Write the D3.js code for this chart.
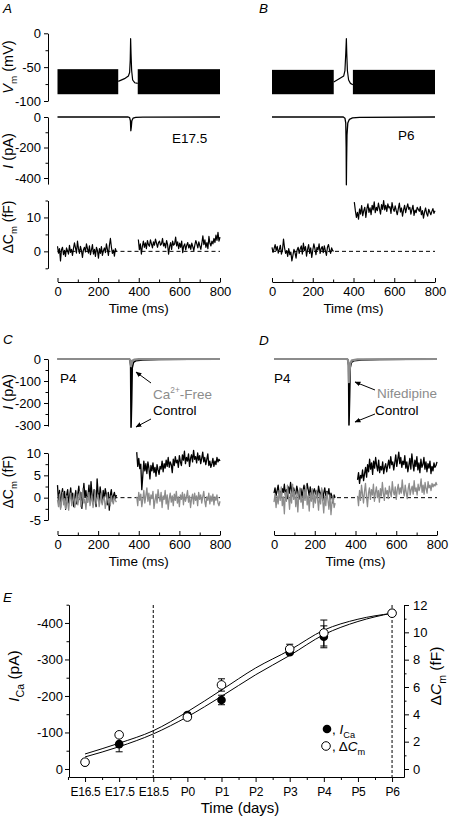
<!DOCTYPE html>
<html><head><meta charset="utf-8">
<script src="https://cdn.jsdelivr.net/npm/d3@7"></script>
<style>
body{margin:0;background:#fff}
svg{display:block;font-family:"Liberation Sans",Arial,sans-serif}
</style></head><body>
<svg id="c" width="449" height="817"></svg>
<script>
// ---------------- DATA ----------------
const timeTicks = [0, 200, 400, 600, 800];
const timeMinor = [100, 300, 500, 700];

// Panel A (E17.5)
const vmBlocksA = [[0, 299], [395, 800]];
const vmBlockRangeA = [-90, -53];
const vmSpikeA = [[299,-71],[330,-67],[349,-63],[355,-58],[358,-40],[360,-8],[362,-30],[365,-55],[370,-69],[380,-73],[395,-74]];
const iTraceA = [[0,0],[348,0],[355,-4],[359,-25],[361,-90],[363,-70],[366,-25],[372,-8],[385,-3],[420,-1],[800,0]];
const cmA1 = [1.5,-0.5,0.8,-2.8,0.5,1.2,-1.0,0.3,-1.5,1.0,0.2,-0.8,1.8,-0.3,0.6,-1.2,0.9,2.5,1.0,-0.5,3.0,0.8,-0.6,1.5,0.2,-1.8,0.5,1.2,-0.2,2.2,0.8,-0.5,1.6,-1.0,0.4,2.0,-0.8,0.6,-1.5,1.2,0.3,-2.0,0.8,-0.6,1.4,-1.2,0.2,1.0,-0.4,2.2,0.6,-1.2,1.8,3.8,1.2,-0.6,0.4,-1.4,0.8,-0.2];
const cmA2 = [3.5,0.5,2.2,-0.8,1.5,3.0,1.2,2.5,0.8,3.2,2.0,1.5,3.4,2.2,1.0,2.8,1.8,3.6,2.4,1.2,2.6,3.0,1.8,2.2,3.8,1.6,2.4,1.0,3.2,2.0,-0.8,1.4,2.6,0.6,3.0,1.8,2.2,4.2,1.6,2.8,0.8,2.4,1.2,3.0,-0.4,1.6,2.2,0.4,1.8,2.6,1.0,2.0,0.6,2.4,1.4,0.2,1.8,3.2,2.2,1.0,2.8,1.6,0.6,2.4,4.6,2.0,3.4,1.2,2.6,0.8,4.4,2.4,1.6,3.0,2.2,3.8,2.6,4.8,3.2,5.6,3.0,4.2];
const cmA1Span = [0, 290], cmA2Span = [398, 800];

// Panel B (P6)
const vmBlocksB = [[0, 303], [397, 800]];
const vmBlockRangeB = [-90, -54];
const vmSpikeB = [[303,-72],[330,-67],[352,-63],[358,-55],[362,-30],[365,-8],[367,-30],[370,-55],[376,-69],[385,-74],[397,-76]];
const iTraceB = [[0,0],[350,0],[358,-8],[362,-40],[364,-200],[365,-445],[366,-300],[368,-120],[372,-40],[380,-15],[395,-6],[430,-2],[800,0]];
const cmB1 = [1.2,-0.3,0.8,2.0,0.2,1.5,-0.5,0.6,1.8,-0.8,0.4,3.6,1.0,-0.6,0.2,-1.5,0.8,-1.0,-0.2,-2.8,-1.2,0.6,-0.4,-2.0,0.4,1.2,-0.6,0.8,1.6,-0.8,2.4,0.2,1.4,-1.4,0.6,2.0,-0.6,1.0,-1.8,0.4,2.2,0.8,-1.0,1.2,0.4,2.2,-0.6,0.8,1.4,-0.4,1.6,0.2,-1.2,1.2,2.0,0.4,-0.6,1.0,0.2,0.0];
const cmB2 = [14.5,12.0,10.0,11.5,9.5,12.5,11.0,13.5,10.5,12.0,13.0,10.0,12.5,14.0,11.5,12.8,10.8,13.6,12.2,14.6,11.4,13.0,12.0,14.2,12.6,11.0,13.8,12.4,15.0,12.2,13.6,11.8,14.0,12.8,13.2,11.2,14.4,12.6,11.8,13.4,12.0,10.8,12.6,14.2,11.6,12.8,10.4,12.2,13.6,11.4,12.8,14.0,12.4,13.0,11.0,12.4,13.6,10.6,12.2,11.4,13.0,12.4,11.8,13.2,10.8,12.0,9.8,11.6,12.8,11.2,10.4,12.4,11.6,10.8,11.8,12.6,11.2,12.0];
const cmB1Span = [0, 303], cmB2Span = [404, 800];

// Panel C (P4, Ca-free)
const iCtrlC = [[0,0],[352,0],[357,-5],[360,-30],[362,-310],[365,-200],[368,-40],[374,-15],[385,-8],[420,-4],[500,-2],[800,0]];
const iFreeC = [[0,0],[352,0],[357,-3],[360,-15],[362,-32],[364,-20],[368,-8],[377,-3],[400,-1],[800,0]];
const cmC1k = [2.8,-1.0,1.6,-2.2,0.8,2.0,-0.8,1.4,-2.6,0.6,1.8,-1.2,0.4,2.2,-0.6,1.0,-2.0,0.2,1.6,-1.4,0.8,2.6,-0.4,1.2,-2.4,0.6,3.2,0.0,1.6,-1.0,0.4,2.8,-0.8,3.6,0.6,-1.4,1.8,0.2,-2.0,4.2,1.0,-0.6,2.4,0.4,-1.2,1.6,-0.4,2.0,0.8,-1.6,1.2,-2.8,0.6,1.8,-0.8,0.4,1.2,-0.2,0.6];
const cmC1g = [-0.5,-2.0,0.8,-2.6,-0.8,1.2,-1.6,-0.2,-2.4,0.4,-1.2,-2.8,-0.4,1.0,-1.8,-0.6,0.6,-2.2,-1.0,0.8,-1.6,-0.2,1.4,-2.0,-0.8,2.0,-1.2,-0.4,-2.6,0.2,-1.0,1.2,-1.8,-0.6,0.4,-2.2,-0.8,1.6,-1.4,-0.2,0.6,-2.0,-0.6,1.0,-1.6,-0.4,0.2,-2.4,-1.0,0.8,-1.2,-0.2,-1.8,0.4,-0.8,-1.4,0.2,-0.6,-1.0];
const cmC2k = [10.2,7.0,8.8,6.5,7.5,1.8,5.0,8.2,6.0,7.6,5.4,8.0,6.6,4.2,7.2,6.0,7.8,5.6,6.8,4.8,7.4,6.2,5.2,7.0,6.4,8.2,5.8,7.6,6.6,8.4,7.0,9.0,6.8,8.0,7.4,5.6,8.6,7.2,9.2,7.8,8.4,6.8,9.4,8.0,7.2,9.6,8.4,10.4,7.6,9.0,8.2,9.8,7.0,8.8,9.6,8.0,10.6,8.6,9.2,7.8,10.0,8.4,9.4,7.6,8.8,10.2,8.0,9.0,7.4,8.6,9.8,7.2,8.2,6.8,7.6,8.8,7.0,8.2,7.4,9.0,8.0,8.6,8.2];
const cmC2g = [0.2,-1.8,1.2,-0.6,0.8,-2.0,-0.4,1.6,-1.2,0.4,2.2,-0.8,1.0,-1.6,0.6,-0.2,1.4,-2.4,-0.6,0.8,-1.2,1.8,0.2,-0.8,1.2,-2.2,0.4,-0.4,1.6,-1.4,0.6,-2.6,-0.2,1.0,-1.0,0.4,-1.8,0.8,-0.6,1.4,-1.2,0.2,-2.0,0.6,-0.4,1.2,-1.6,0.8,-0.8,0.2,1.6,-1.0,0.4,-2.2,-0.2,0.8,-1.4,1.0,-0.6,0.4,-1.8,1.2,-0.4,0.6,-1.2,0.2,1.4,-0.8,-2.0,0.2,-0.6,1.0,-1.4,0.4,-0.8,0.8,-1.6,0.2,-0.6,0.6,-1.2,-1.8,-0.8];
const cmC1Span = [0, 290], cmC2Span = [390, 800];

// Panel D (P4, nifedipine)
const iCtrlD = [[0,0],[358,0],[363,-5],[366,-30],[368,-300],[371,-180],[374,-40],[380,-15],[392,-8],[430,-4],[520,-2],[800,0]];
const iNifD = [[0,0],[358,0],[363,-4],[366,-25],[368,-105],[371,-60],[374,-20],[382,-6],[410,-2],[800,0]];
const cmD1k = [1.0,2.2,0.4,1.6,2.8,0.8,1.4,0.2,2.0,1.2,3.0,0.6,1.8,-0.2,2.4,1.0,3.4,1.6,0.4,2.2,1.2,0.8,2.6,1.4,-0.4,1.0,2.0,0.2,1.6,2.8,0.6,1.2,3.2,1.8,0.4,2.4,1.0,-0.2,1.4,2.0,0.8,1.6,0.2,2.6,1.2,0.6,1.8,-0.6,1.0,2.2,0.4,1.4,0.8,2.0,-0.4,1.0,0.2,-1.2,0.6,0.0];
const cmD1g = [-1.0,0.8,-2.2,0.4,-1.4,1.6,-0.6,2.4,-1.8,0.2,-3.6,1.2,-0.8,2.8,0.4,-2.6,1.0,-1.2,3.0,-0.4,1.4,-2.0,0.6,-3.2,0.8,2.2,-1.0,0.2,-2.4,1.8,-0.6,2.6,-1.6,0.4,-3.0,1.0,-0.8,2.0,-2.2,0.6,-1.2,1.6,-0.2,-2.8,0.8,-1.4,2.2,-0.6,-3.4,0.4,-1.8,1.2,-0.4,-2.6,0.6,-3.8,-1.0,0.2,-2.2,-1.2];
const cmD2k = [4.0,5.6,3.2,5.0,4.4,6.2,3.8,5.4,6.8,4.6,7.4,5.8,8.6,6.4,7.8,5.2,8.2,6.6,9.0,7.2,6.0,8.4,5.6,7.0,6.2,8.0,5.4,6.8,7.6,5.8,7.2,8.4,6.6,9.2,7.4,8.0,6.2,7.8,9.6,7.0,8.6,10.2,7.6,9.0,6.8,8.2,7.4,9.4,6.6,8.0,5.8,7.2,8.8,6.4,9.8,7.6,6.0,8.4,7.0,9.2,6.2,7.8,5.6,8.6,6.8,7.4,9.0,6.4,8.0,5.8,7.6,6.6,8.2,5.4,7.0,6.0,7.8,6.8,7.2,8.0];
const cmD2g = [0.4,-1.8,1.6,-0.6,2.8,0.8,-1.2,1.4,3.2,0.2,-2.0,1.0,2.2,-0.4,1.8,0.6,3.0,-0.8,1.2,2.4,0.0,1.6,-1.0,2.0,0.4,3.4,1.0,-0.6,2.2,0.8,1.6,-0.2,2.6,1.2,0.2,3.6,1.4,0.6,2.4,-0.4,1.8,3.0,0.8,2.2,1.0,4.0,1.6,0.4,2.8,1.2,-0.2,2.0,3.2,0.6,1.8,2.6,0.8,3.8,1.4,2.2,0.6,3.0,1.6,2.4,4.2,1.2,2.8,0.8,3.4,2.0,1.0,3.6,2.2,2.8,1.6,3.2,2.4,3.0,2.6,3.4,2.8];
const cmD1Span = [0, 300], cmD2Span = [410, 800];

// Panel E (developmental time course)
const dayLabels = ['E16.5','E17.5','E18.5','P0','P1','P2','P3','P4','P5','P6'];
const dataDays = [0, 1, 3, 4, 6, 7, 9];
const iCa = [-18, -68, -148, -189, -320, -362, -427];
const iCaErr = [0, 21, 6, 13, 6, 30, 0];
const dCm = [0.5, 2.5, 3.8, 6.15, 8.78, 9.95, 11.4];
const dCmErr = [0, 0.15, 0.2, 0.45, 0.35, 0.95, 0];
const fitDays = [0, 1, 2, 3, 4, 5, 6, 7, 8, 9];
const fitICa = [-33, -61, -96, -143, -199, -258, -311, -368, -404, -427];
const fitDCm = [1.10, 1.89, 2.80, 4.19, 5.78, 7.39, 8.70, 10.16, 10.96, 11.39];
const eLeftTicks = [0, -100, -200, -300, -400];
const eLeftMinor = [-50, -150, -250, -350, -450];
const eRightTicks = [0, 2, 4, 6, 8, 10, 12];
const eRightMinor = [1, 3, 5, 7, 9, 11];
const eMarkerDays = [2, 9]; // dashed reference lines

// ---------------- DRAWING ----------------
const FONT = '"Liberation Sans", Arial, sans-serif';
const svg = d3.select('#c');
const GRAY = '#8c8c8c';

const xA = d3.scaleLinear([0, 800], [57.5, 220]);
const xB = d3.scaleLinear([0, 800], [272, 435]);
const xC = xA;
const xD = d3.scaleLinear([0, 800], [274, 437]);
const yVm = d3.scaleLinear([0, -100], [33.3, 101]);
const yIab = d3.scaleLinear([0, -440], [117, 184.1]);
const yCab = d3.scaleLinear([15, -5], [200.5, 268.3]);
const yIcd = d3.scaleLinear([0, -305], [359, 426.1]);
const yCcd = d3.scaleLinear([10, -5], [453, 520]);

function seg(vals, span) {
  const n = vals.length;
  return vals.map((v, i) => [span[0] + (span[1] - span[0]) * i / (n - 1), v]);
}
function line(data, x, y, color, w, dash) {
  const p = svg.append('path').datum(data)
    .attr('d', d3.line().x(d => x(d[0])).y(d => y(d[1])))
    .attr('fill', 'none').attr('stroke', color).attr('stroke-width', w)
    .attr('stroke-linejoin', 'round');
  if (dash) p.attr('stroke-dasharray', dash);
  return p;
}
function styleAxis(g, fs) {
  g.attr('font-size', fs).attr('font-family', FONT);
  g.selectAll('line,path').attr('stroke', '#000').attr('stroke-width', 1);
  g.selectAll('text').attr('fill', '#000');
}
function vAxis(scale, x, major, minor, o = {}) {
  const mk = o.right ? d3.axisRight : d3.axisLeft;
  const g = svg.append('g').attr('transform', `translate(${x},0)`);
  g.call(mk(scale).tickValues(major).tickSize(o.ts || 4).tickSizeOuter(0)
    .tickPadding(o.pad == null ? 3 : o.pad).tickFormat(o.fmt || (d => String(d))));
  if (minor) {
    const m = g.append('g').call(mk(scale).tickValues(minor).tickSize(o.mts || 2.5).tickSizeOuter(0).tickFormat(''));
    m.select('.domain').remove();
  }
  styleAxis(g, o.fs || 13);
  return g;
}
function timeAxis(x, y) {
  const g = svg.append('g').attr('transform', `translate(0,${y})`);
  g.call(d3.axisBottom(x).tickValues(timeTicks).tickSize(-4).tickSizeOuter(0).tickPadding(5).tickFormat(d => String(d)));
  const m = g.append('g').call(d3.axisBottom(x).tickValues(timeMinor).tickSize(-2.5).tickSizeOuter(0).tickFormat(''));
  m.select('.domain').remove();
  styleAxis(g, 13);
  const c = (x.range()[0] + x.range()[1]) / 2;
  svg.append('text').attr('x', c).attr('y', y + 31).attr('text-anchor', 'middle')
    .attr('font-size', 13.5).attr('font-family', FONT).text('Time (ms)');
}
function vLabel(x, y, parts, fs) {
  const t = svg.append('text').attr('transform', `translate(${x},${y}) rotate(-90)`)
    .attr('text-anchor', 'middle').attr('font-size', fs).attr('font-family', FONT);
  addParts(t, parts, fs);
  return t;
}
function addParts(t, parts, fs) {
  let shift = 0;
  parts.forEach(p => {
    const s = t.append('tspan').text(p.t);
    if (p.i) s.attr('font-style', 'italic');
    if (p.sub) { s.attr('font-size', fs * 0.68).attr('dy', fs * 0.3 - shift); shift = fs * 0.3; }
    else if (p.sup) { s.attr('font-size', fs * 0.62).attr('dy', -fs * 0.42 - shift); shift = -fs * 0.42; }
    else if (shift) { s.attr('dy', -shift); shift = 0; }
  });
}
function txt(x, y, s, o = {}) {
  return svg.append('text').attr('x', x).attr('y', y).attr('font-size', o.fs || 13)
    .attr('font-family', FONT).attr('fill', o.fill || '#000')
    .attr('font-style', o.it ? 'italic' : null).attr('text-anchor', o.anchor || 'start').text(s);
}

// arrow marker
svg.append('defs').append('marker').attr('id', 'ah').attr('viewBox', '0 0 10 10')
  .attr('refX', 9).attr('refY', 5).attr('markerWidth', 6).attr('markerHeight', 6)
  .attr('markerUnits', 'userSpaceOnUse').attr('orient', 'auto')
  .append('path').attr('d', 'M0,1 L10,5 L0,9 Z').attr('fill', '#000');
function arrow(x1, y1, x2, y2) {
  svg.append('line').attr('x1', x1).attr('y1', y1).attr('x2', x2).attr('y2', y2)
    .attr('stroke', '#000').attr('stroke-width', 1).attr('marker-end', 'url(#ah)');
}

// panel letters
txt(3, 13, 'A', {fs: 13.5, it: true});
txt(259, 13, 'B', {fs: 13.5, it: true});
txt(3, 344, 'C', {fs: 13.5, it: true});
txt(259, 345, 'D', {fs: 13.5, it: true});
txt(3, 602, 'E', {fs: 13.5, it: true});

// ---- Panel A & B : Vm ----
function vmPanel(x, blocks, range, spike) {
  blocks.forEach(b => svg.append('rect').attr('x', x(b[0])).attr('width', x(b[1]) - x(b[0]))
    .attr('y', yVm(range[1])).attr('height', yVm(range[0]) - yVm(range[1])).attr('fill', '#000'));
  line(spike, x, yVm, '#000', 1.2);
}
vmPanel(xA, vmBlocksA, vmBlockRangeA, vmSpikeA);
vmPanel(xB, vmBlocksB, vmBlockRangeB, vmSpikeB);
vAxis(yVm, 48, [0, -50, -100], [-25, -75]);
vLabel(13, 67, [{t: 'V', i: true}, {t: 'm', sub: true}, {t: ' (mV)'}], 14.5);

// ---- I traces A/B ----
line(iTraceA, xA, yIab, '#000', 1.3);
line(iTraceB, xB, yIab, '#000', 1.3);
vAxis(yIab, 48, [0, -200, -400], [-100, -300]);
vLabel(13, 151, [{t: 'I', i: true}, {t: ' (pA)'}], 14.5);
txt(172, 143, 'E17.5', {fs: 13.5});
txt(398, 140, 'P6', {fs: 13.5});

// ---- Cm A/B ----
line([[0, 0], [800, 0]], xA, yCab, '#000', 1, '4,3');
line([[0, 0], [800, 0]], xB, yCab, '#000', 1, '4,3');
[[cmA1, cmA1Span, xA], [cmA2, cmA2Span, xA], [cmB1, cmB1Span, xB], [cmB2, cmB2Span, xB]]
  .forEach(([v, s, x]) => line(seg(v, s), x, yCab, '#000', 1.2));
vAxis(yCab, 48, [10, 0], [15, 5, -5]);
vLabel(13, 227, [{t: 'ΔC'}, {t: 'm', sub: true}, {t: ' (fF)'}], 14);
timeAxis(xA, 282);
timeAxis(xB, 282);

// ---- Panel C/D : I ----
line(iCtrlC, xC, yIcd, '#000', 1.6);
line(iFreeC, xC, yIcd, GRAY, 2.2);
line(iCtrlD, xD, yIcd, '#000', 1.6);
line(iNifD, xD, yIcd, GRAY, 2.2);
vAxis(yIcd, 48, [0, -100, -200, -300], [-50, -150, -250]);
vLabel(13, 392, [{t: 'I', i: true}, {t: ' (pA)'}], 14.5);
txt(60, 383, 'P4', {fs: 13.5});
txt(274, 383, 'P4', {fs: 13.5});
{
  const t = svg.append('text').attr('x', 153).attr('y', 399).attr('font-size', 13.5)
    .attr('font-family', FONT).attr('fill', GRAY);
  addParts(t, [{t: 'Ca'}, {t: '2+', sup: true}, {t: '-Free'}], 13.5);
}
txt(153, 415, 'Control', {fs: 13.5});
txt(377, 398, 'Nifedipine', {fs: 13.5, fill: GRAY});
txt(375, 415, 'Control', {fs: 13.5});
arrow(151, 383, 136, 372);
arrow(151, 419, 136, 427);
arrow(375, 390, 355, 382);
arrow(375, 414, 355, 422);

// ---- Cm C/D ----
line([[0, 0], [800, 0]], xC, yCcd, '#000', 1, '4,3');
line([[0, 0], [800, 0]], xD, yCcd, '#000', 1, '4,3');
[[cmC1k, cmC1Span, xC, '#000'], [cmC2k, cmC2Span, xC, '#000'], [cmC1g, cmC1Span, xC, GRAY], [cmC2g, cmC2Span, xC, GRAY],
 [cmD1k, cmD1Span, xD, '#000'], [cmD2k, cmD2Span, xD, '#000'], [cmD1g, cmD1Span, xD, GRAY], [cmD2g, cmD2Span, xD, GRAY]]
  .forEach(([v, s, x, c]) => line(seg(v, s), x, yCcd, c, 1.3));
vAxis(yCcd, 48, [10, 5, 0, -5], [7.5, 2.5, -2.5]);
vLabel(13, 482, [{t: 'ΔC'}, {t: 'm', sub: true}, {t: ' (fF)'}], 14);
timeAxis(xC, 535);
timeAxis(xD, 535);

// ---- Panel E ----
const xE = d3.scaleLinear([-0.47, 9.35], [69, 404]);
const yEL = d3.scaleLinear([22, -450], [777, 604.7]);
const yER = d3.scaleLinear([-0.585, 12], [777, 605]);

eMarkerDays.forEach(d => svg.append('line').attr('x1', xE(d)).attr('x2', xE(d))
  .attr('y1', 605).attr('y2', 777).attr('stroke', '#000').attr('stroke-width', 1).attr('stroke-dasharray', '3,2'));

{
  const g = svg.append('g').attr('transform', 'translate(0,777)');
  g.call(d3.axisBottom(xE).tickValues(d3.range(10)).tickSize(5).tickSizeOuter(0).tickPadding(5).tickFormat(i => dayLabels[i]));
  const m = g.append('g').call(d3.axisBottom(xE).tickValues(d3.range(-0.5, 9.5, 1)).tickSize(3).tickSizeOuter(0).tickFormat(''));
  m.select('.domain').remove();
  styleAxis(g, 12);
  g.selectAll('text').attr('letter-spacing', -0.3);
}
vAxis(yEL, 69, eLeftTicks, eLeftMinor, {fs: 13, pad: 2});
vAxis(yER, 404, eRightTicks, eRightMinor, {right: true, fs: 13, pad: 4, ts: 5});
txt(240, 813, 'Time (days)', {fs: 15, anchor: 'middle'});
vLabel(19, 676, [{t: 'I', i: true}, {t: 'Ca', sub: true}, {t: ' (pA)'}], 15.5);
{
  const t = svg.append('text').attr('transform', 'translate(441,676) rotate(-90)')
    .attr('text-anchor', 'middle').attr('font-size', 15.5).attr('font-family', FONT);
  addParts(t, [{t: 'Δ'}, {t: 'C', i: true}, {t: 'm', sub: true}, {t: ' (fF)'}], 15.5);
}

// fits
svg.append('path').datum(fitDays.map((d, i) => [d, fitICa[i]]))
  .attr('d', d3.line().curve(d3.curveMonotoneX).x(d => xE(d[0])).y(d => yEL(d[1])))
  .attr('fill', 'none').attr('stroke', '#000').attr('stroke-width', 1);
svg.append('path').datum(fitDays.map((d, i) => [d, fitDCm[i]]))
  .attr('d', d3.line().curve(d3.curveMonotoneX).x(d => xE(d[0])).y(d => yER(d[1])))
  .attr('fill', 'none').attr('stroke', '#000').attr('stroke-width', 1);

function errBars(vals, errs, y) {
  dataDays.forEach((d, i) => {
    if (!errs[i]) return;
    const x = xE(d), y1 = y(vals[i] - errs[i]), y2 = y(vals[i] + errs[i]);
    svg.append('line').attr('x1', x).attr('x2', x).attr('y1', y1).attr('y2', y2).attr('stroke', '#000');
    [y1, y2].forEach(yy => svg.append('line').attr('x1', x - 3.5).attr('x2', x + 3.5).attr('y1', yy).attr('y2', yy).attr('stroke', '#000'));
  });
}
errBars(iCa, iCaErr, yEL);
errBars(dCm, dCmErr, yER);
dataDays.forEach((d, i) => svg.append('circle').attr('cx', xE(d)).attr('cy', yEL(iCa[i])).attr('r', 4.3).attr('fill', '#000'));
dataDays.forEach((d, i) => svg.append('circle').attr('cx', xE(d)).attr('cy', yER(dCm[i])).attr('r', 4.3)
  .attr('fill', '#fff').attr('stroke', '#000').attr('stroke-width', 1));

// legend
svg.append('circle').attr('cx', 327).attr('cy', 729).attr('r', 4.3).attr('fill', '#000');
svg.append('circle').attr('cx', 326).attr('cy', 746).attr('r', 4.3).attr('fill', '#fff').attr('stroke', '#000');
{
  const t1 = svg.append('text').attr('x', 332).attr('y', 734).attr('font-size', 13.5).attr('font-family', FONT);
  addParts(t1, [{t: ', '}, {t: 'I', i: true}, {t: 'Ca', sub: true}], 13.5);
  const t2 = svg.append('text').attr('x', 332).attr('y', 751).attr('font-size', 13.5).attr('font-family', FONT);
  addParts(t2, [{t: ', Δ'}, {t: 'C', i: true}, {t: 'm', sub: true}], 13.5);
}
</script></body></html>
